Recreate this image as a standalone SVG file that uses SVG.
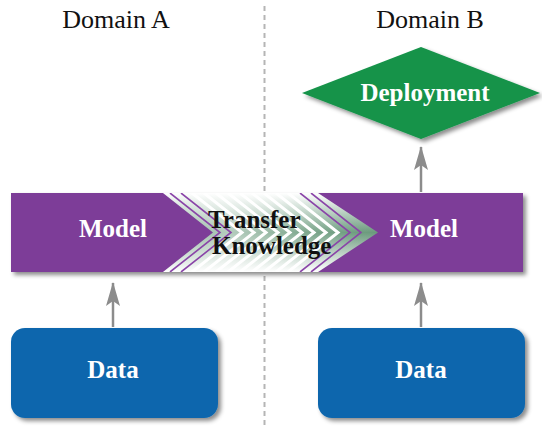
<svg xmlns="http://www.w3.org/2000/svg" width="542" height="427" viewBox="0 0 542 427">
  <style>
    text { font-family: 'Liberation Serif', 'DejaVu Serif', serif; }
    .title { font-size: 26px; fill: #111; text-anchor: middle; }
    .label { font-size: 25px; font-weight: bold; fill: #fff; text-anchor: middle; }
    .xfer { font-size: 25px; font-weight: bold; fill: #111; }
    .link { stroke: #8c8c8c; stroke-width: 2.5; fill: none; marker-end: url(#head); }
    .stripe { fill: none; stroke: #fff; stroke-width: 3; }
    .pstripe { fill: none; stroke: #8a45a8; stroke-width: 1.6; }
  </style>
  <defs>
    <filter id="shadow" x="-10%" y="-10%" width="125%" height="130%">
      <feDropShadow dx="3" dy="3" stdDeviation="2" flood-color="#000" flood-opacity="0.45"/>
    </filter>
    <marker id="head" viewBox="0 0 24 14" refX="23" refY="7" markerWidth="24" markerHeight="14" markerUnits="userSpaceOnUse" orient="auto">
      <path d="M0,0 L24,7 L0,14 L5,7 Z" fill="#8c8c8c"/>
    </marker>
    <linearGradient id="glow" x1="0" y1="0" x2="0" y2="1">
      <stop offset="0" stop-color="#ffffff"/>
      <stop offset="0.5" stop-color="#6a9a7c"/>
      <stop offset="1" stop-color="#ffffff"/>
    </linearGradient>
    <linearGradient id="fadeH" x1="0" y1="0" x2="1" y2="0">
      <stop offset="0" stop-color="#fff" stop-opacity="0.15"/>
      <stop offset="0.3" stop-color="#fff" stop-opacity="0.5"/>
      <stop offset="0.7" stop-color="#fff" stop-opacity="0.1"/>
      <stop offset="1" stop-color="#fff" stop-opacity="0"/>
    </linearGradient>
    <clipPath id="chevClip">
      <polygon points="163,193 318,193 378,232.5 318,272 163,272 213,232.5"/>
    </clipPath>
  </defs>

  <!-- domain divider -->
  <line x1="264.5" y1="6" x2="264.5" y2="427" stroke="#b5b5b5" stroke-width="2" stroke-dasharray="5,4"/>

  <g id="domain-a-title"><text class="title" x="116" y="28">Domain A</text></g>
  <g id="domain-b-title"><text class="title" x="430" y="28">Domain B</text></g>

  <!-- shared model band with transfer chevron -->
  <g id="model-band">
    <rect x="11" y="193" width="512" height="79" fill="#7d3c98" filter="url(#shadow)"/>
    <g id="transfer">
      <polygon points="163,193 318,193 378,232.5 318,272 163,272 213,232.5" fill="url(#glow)"/>
      <polygon points="163,193 318,193 378,232.5 318,272 163,272 213,232.5" fill="url(#fadeH)"/>
      <g clip-path="url(#chevClip)">
        <polyline class="pstripe" points="170,193 220,232.5 170,272"/>
        <polyline class="pstripe" points="181,193 231,232.5 181,272"/>
        <polyline class="stripe" points="192,193 242,232.5 192,272"/>
        <polyline class="stripe" points="204,193 254,232.5 204,272"/>
        <polyline class="stripe" points="216,193 266,232.5 216,272"/>
        <polyline class="stripe" points="228,193 278,232.5 228,272"/>
        <polyline class="stripe" points="240,193 290,232.5 240,272"/>
        <polyline class="stripe" points="252,193 302,232.5 252,272"/>
        <polyline class="stripe" points="264,193 314,232.5 264,272"/>
        <polyline class="stripe" points="276,193 326,232.5 276,272"/>
        <polyline class="stripe" points="288,193 338,232.5 288,272"/>
        <polyline class="pstripe" points="300,193 350,232.5 300,272"/>
        <polyline class="pstripe" points="311,193 361,232.5 311,272"/>
      </g>
      <text class="xfer" x="208" y="228">Transfer</text>
      <text class="xfer" x="212" y="254">Knowledge</text>
    </g>
  </g>
  <g id="model-a"><text class="label" x="113" y="237">Model</text></g>
  <g id="model-b"><text class="label" x="424" y="237">Model</text></g>

  <g id="deployment">
    <polygon points="302,93 421,47 540,93 421,139" fill="#14934a" filter="url(#shadow)"/>
    <text class="label" x="425" y="101">Deployment</text>
  </g>

  <g id="data-a">
    <rect x="11" y="328" width="207" height="90" rx="14" fill="#0b66ad" filter="url(#shadow)"/>
    <text class="label" x="113" y="378">Data</text>
  </g>
  <g id="data-b">
    <rect x="318" y="328" width="207" height="90" rx="14" fill="#0b66ad" filter="url(#shadow)"/>
    <text class="label" x="421" y="378">Data</text>
  </g>

  <g id="connectors">
    <line class="link" x1="113" y1="327" x2="113" y2="283"/>
    <line class="link" x1="421" y1="327" x2="421" y2="283"/>
    <line class="link" x1="421" y1="192" x2="421" y2="147"/>
  </g>
</svg>
